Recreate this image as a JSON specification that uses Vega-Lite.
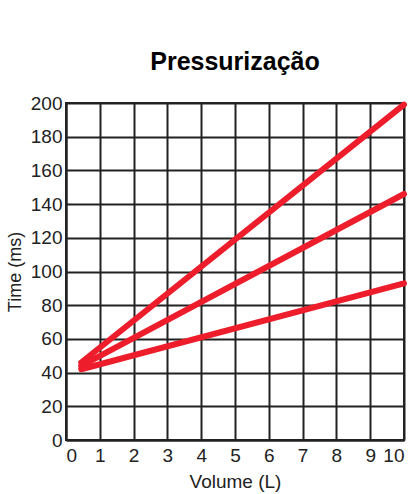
{
  "$schema": "https://vega.github.io/schema/vega-lite/v6.json",
  "autosize": "none",
  "padding": {"left": 66, "top": 103, "right": 10, "bottom": 54},
  "width": 338,
  "height": 337,
  "background": "white",
  "title": {"text": "Pressurização", "font": "Liberation Sans", "fontSize": 25, "fontWeight": "bold", "color": "#000", "offset": 18, "anchor": "middle"},
  "config": {"view": {"stroke": "#222", "strokeWidth": 2}},
  "data": {"values": [
    {"series": "A", "volume": 0.45, "time": 46},
    {"series": "A", "volume": 10, "time": 199},
    {"series": "B", "volume": 0.45, "time": 44},
    {"series": "B", "volume": 10, "time": 146},
    {"series": "C", "volume": 0.45, "time": 42},
    {"series": "C", "volume": 10, "time": 93}
  ]},
  "mark": {"type": "line", "strokeWidth": 6, "strokeCap": "round", "color": "#ee1d2b"},
  "encoding": {
    "x": {"field": "volume", "type": "quantitative", "scale": {"domain": [0, 10], "nice": false},
      "axis": {"title": "Volume (L)", "values": [0,1,2,3,4,5,6,7,8,9,10], "grid": true, "gridColor": "#222", "gridWidth": 2, "gridOpacity": 1, "domainColor": "#222", "domainWidth": 2, "ticks": false, "labelFont": "Liberation Sans", "labelFontSize": 19, "labelColor": "#222", "labelPadding": 6, "titleFont": "Liberation Sans", "titleFontSize": 19, "titleFontWeight": "normal", "titleColor": "#222", "titlePadding": 7}},
    "y": {"field": "time", "type": "quantitative", "scale": {"domain": [0, 200], "nice": false},
      "axis": {"title": "Time (ms)", "values": [0,20,40,60,80,100,120,140,160,180,200], "grid": true, "gridColor": "#222", "gridWidth": 2, "gridOpacity": 1, "domainColor": "#222", "domainWidth": 2, "ticks": false, "labelFont": "Liberation Sans", "labelFontSize": 19, "labelColor": "#222", "labelPadding": 4, "titleFont": "Liberation Sans", "titleFontSize": 18, "titleFontWeight": "normal", "titleColor": "#222", "titlePadding": 6}},
    "detail": {"field": "series"}
  }
}
